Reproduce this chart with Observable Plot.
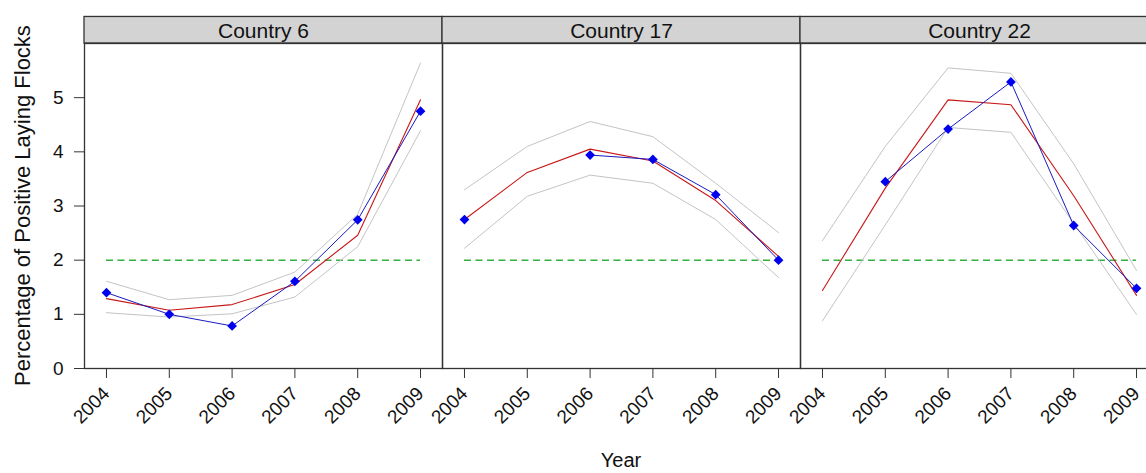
<!DOCTYPE html>
<html>
<head>
<meta charset="utf-8">
<script src="https://cdn.jsdelivr.net/npm/d3@7"></script>
<script src="https://cdn.jsdelivr.net/npm/@observablehq/plot@0.6"></script>
<style>
  html, body { margin: 0; padding: 0; background: #fff; overflow: hidden; }
  #chart svg { display: block; max-width: none !important; font-family: "Liberation Sans", Arial, sans-serif; }
</style>
</head>
<body>
<div id="chart"></div>
<script>
// ---- data ----
const years = [2004, 2005, 2006, 2007, 2008, 2009];
const countries = ["Country 6", "Country 17", "Country 22"];
const yTicks = [0, 1, 2, 3, 4, 5];
const threshold = 2;

// observed (blue, null = missing)
const obsC6  = [1.40, 1.00, 0.785, 1.61, 2.745, 4.75];
const obsC17 = [2.75, null, 3.94, 3.86, 3.21, 2.00];
const obsC22 = [null, 3.45, 4.42, 5.29, 2.64, 1.48];
// fitted (red)
const fitC6  = [1.29, 1.075, 1.18, 1.55, 2.46, 4.96];
const fitC17 = [2.75, 3.62, 4.05, 3.83, 3.10, 2.07];
const fitC22 = [1.44, 3.33, 4.96, 4.87, 3.19, 1.35];
// upper bound (grey)
const upC6  = [1.61, 1.27, 1.35, 1.78, 2.85, 5.64];
const upC17 = [3.30, 4.10, 4.56, 4.28, 3.42, 2.51];
const upC22 = [2.36, 4.10, 5.55, 5.45, 3.78, 1.81];
// lower bound (grey)
const loC6  = [1.03, 0.95, 1.01, 1.32, 2.25, 4.39];
const loC17 = [2.22, 3.18, 3.57, 3.42, 2.75, 1.68];
const loC22 = [0.88, 2.65, 4.45, 4.36, 2.68, 1.00];

const series = {
  "Country 6":  {obs: obsC6,  fit: fitC6,  up: upC6,  lo: loC6},
  "Country 17": {obs: obsC17, fit: fitC17, up: upC17, lo: loC17},
  "Country 22": {obs: obsC22, fit: fitC22, up: upC22, lo: loC22}
};

const rows = [];
for (const c of countries) {
  years.forEach((yr, i) => {
    const s = series[c];
    rows.push({country: c, year: yr, obs: s.obs[i], fit: s.fit[i], up: s.up[i], lo: s.lo[i]});
  });
}

// lattice-style 7% padding on x
const pad = 0.07 * (years[years.length - 1] - years[0]);
const xDomain = [years[0] - pad, years[years.length - 1] + pad];
const yDomain = [0, 6];
const xMid = (years[0] + years[years.length - 1]) / 2;
const stripTop = yDomain[1] + 0.49;
const stripMid = (yDomain[1] + stripTop) / 2;

const W = 1158, H = 473, ML = 84, MT = 43, MB = 105;
const frameColor = "#333";

const chart = Plot.plot({
  width: W,
  height: H,
  marginLeft: ML,
  marginRight: 0,
  marginTop: MT,
  marginBottom: MB,
  style: {fontFamily: "Liberation Sans, Arial, sans-serif", color: "#222", background: "#fff", maxWidth: "none"},
  fx: {domain: countries, padding: 0, axis: null},
  x: {domain: xDomain},
  y: {domain: yDomain},
  marks: [
    // strips
    Plot.rect(countries, {fx: d => d, x1: () => xDomain[0], x2: () => xDomain[1], y1: () => yDomain[1], y2: () => stripTop,
      fill: "#d3d3d3", stroke: frameColor, strokeWidth: 1.3}),
    Plot.text(countries, {fx: d => d, x: () => xMid, y: () => stripMid, text: d => d, fontSize: 21, fill: "#111", dy: 1}),
    Plot.frame({stroke: frameColor, strokeWidth: 1.3}),
    // threshold
    Plot.ruleY([threshold], {x1: () => years[0], x2: () => years[years.length - 1], stroke: "#33b040", strokeWidth: 1.5, strokeDasharray: "7,4.5"}),
    // bounds
    Plot.line(rows, {fx: "country", x: "year", y: "up", stroke: "#c4c4c4", strokeWidth: 1}),
    Plot.line(rows, {fx: "country", x: "year", y: "lo", stroke: "#c4c4c4", strokeWidth: 1}),
    // fitted
    Plot.line(rows, {fx: "country", x: "year", y: "fit", stroke: "#c81818", strokeWidth: 1.1}),
    // observed
    Plot.line(rows, {fx: "country", x: "year", y: "obs", stroke: "#1a1ac0", strokeWidth: 1}),
    Plot.dot(rows.filter(d => d.obs != null), {fx: "country", x: "year", y: "obs", symbol: "diamond2", r: 4.4, fill: "#0000ee", stroke: "none"}),
    // axes
    Plot.axisX({ticks: years, tickFormat: "d", tickRotate: -45, tickSize: 10, tickPadding: 12, fontSize: 19, label: null, stroke: frameColor, fill: "#111"}),
    Plot.axisY({ticks: yTicks, tickFormat: "d", tickSize: 10, tickPadding: 11, fontSize: 19, label: null, stroke: frameColor, fill: "#111"})
  ]
});

document.getElementById("chart").appendChild(chart);

const svg = d3.select(chart);
// y axis title
svg.append("text")
  .attr("transform", `translate(30,${(MT + (H - MB)) / 2}) rotate(-90)`)
  .attr("text-anchor", "middle")
  .attr("font-size", 22)
  .attr("fill", "#111")
  .text("Percentage of Positive Laying Flocks");
// x axis title, centered on the panel area
svg.append("text")
  .attr("x", (ML + W) / 2)
  .attr("y", 467)
  .attr("text-anchor", "middle")
  .attr("font-size", 20)
  .attr("fill", "#111")
  .text("Year");
</script>
</body>
</html>
